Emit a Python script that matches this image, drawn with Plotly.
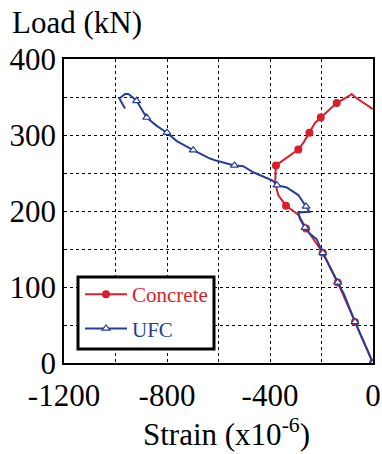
import plotly.graph_objects as go

# ---- data ----
concrete_strain = [0, -70, -137, -195, -260, -290, -309, -338, -368, -380, -377,
                   -290, -270, -247, -225, -203, -141, -90, -83, -70, 0]
concrete_load = [0, 54, 106, 145, 177, 195, 200, 207, 221, 237, 260,
                 281, 290, 303, 316, 323, 342, 352, 354, 350, 334]
concrete_marker_idx = [0, 1, 2, 3, 4, 7, 10, 11, 13, 15, 16]

ufc_strain = [0, -70, -113, -137, -195, -219, -245, -264, -283, -290, -247, -260,
              -290, -335, -373, -390, -465, -504, -538, -607, -633, -698, -762,
              -800, -840, -879, -889, -905, -918, -935, -950, -963, -985, -963]
ufc_load = [0, 54, 91, 106, 145, 163, 170, 178, 189, 198, 199, 206,
            221, 231, 234, 240, 251, 259, 260, 266, 269, 280, 292,
            303, 312, 323, 329, 337, 345, 350, 354, 354, 348, 335]
ufc_marker_idx = [0, 1, 3, 4, 7, 11, 14, 18, 21, 23, 25, 28]

x_ticks = [-1200, -800, -400, 0]
y_ticks = [0, 100, 200, 300, 400]

RED = "#da1f2c"
BLUE = "#263e98"
FONT = "Liberation Serif"

fig = go.Figure()

fig.add_trace(go.Scatter(x=concrete_strain, y=concrete_load, mode="lines",
                         line=dict(color=RED, width=2), showlegend=False, hoverinfo="skip"))
fig.add_trace(go.Scatter(x=[concrete_strain[i] for i in concrete_marker_idx],
                         y=[concrete_load[i] for i in concrete_marker_idx],
                         mode="markers", marker=dict(color=RED, size=8, symbol="circle"),
                         showlegend=False))
fig.add_trace(go.Scatter(x=ufc_strain, y=ufc_load, mode="lines",
                         line=dict(color=BLUE, width=2), showlegend=False, hoverinfo="skip"))
fig.add_trace(go.Scatter(x=[ufc_strain[i] for i in ufc_marker_idx],
                         y=[ufc_load[i] for i in ufc_marker_idx],
                         mode="markers",
                         marker=dict(color="white", size=7, symbol="triangle-up",
                                     line=dict(color=BLUE, width=1.2)),
                         showlegend=False))

fig.add_trace(go.Scatter(x=[None], y=[None], mode="lines+markers",
                         name=f'<span style="color:{RED}">Concrete</span>',
                         line=dict(color=RED, width=2),
                         marker=dict(color=RED, size=8, symbol="circle"),
                         legendgroup="a"))
fig.add_trace(go.Scatter(x=[None], y=[None], mode="lines+markers",
                         name=f'<span style="color:{BLUE}">UFC</span>',
                         line=dict(color=BLUE, width=2),
                         marker=dict(color="white", size=7, symbol="triangle-up",
                                     line=dict(color=BLUE, width=1.2)),
                         legendgroup="b"))

axis_common = dict(
    showline=True, mirror=True, linecolor="black", linewidth=1.5,
    showgrid=True, gridcolor="black", gridwidth=1, griddash="dot",
    zeroline=False, ticks="", automargin=False,
    tickfont=dict(family=FONT, size=31, color="black"),
)

fig.update_xaxes(range=[-1200, 0], tickvals=x_ticks, ticktext=[str(v) for v in x_ticks],
                 ticklabelstandoff=4,
                 minor=dict(dtick=200, tick0=0, showgrid=True, gridcolor="black",
                            gridwidth=1, griddash="dot"),
                 **axis_common)
fig.update_yaxes(range=[0, 400], tickvals=y_ticks, ticktext=[str(v) for v in y_ticks],
                 minor=dict(dtick=50, tick0=0, showgrid=True, gridcolor="black",
                            gridwidth=1, griddash="dot"),
                 **axis_common)

pw, ph = 382 - 64 - 9, 454 - 59 - 91

def px(xp):
    return (xp - 64) / pw

def py(yp):
    return (363 - yp) / ph

fig.update_layout(
    width=382, height=454,
    margin=dict(l=64, r=9, t=59, b=91, autoexpand=False),
    paper_bgcolor="white", plot_bgcolor="white",
    font=dict(family=FONT, color="black"),
    legend=dict(x=px(80), y=py(274), xanchor="left", yanchor="top",
                borderwidth=0, bgcolor="rgba(0,0,0,0)",
                font=dict(family=FONT, size=21), traceorder="grouped",
                tracegroupgap=4, itemwidth=42),
    shapes=[
        dict(type="rect", xref="paper", yref="paper",
             x0=px(78), x1=px(214), y0=py(349), y1=py(277),
             fillcolor="white", line=dict(color="black", width=3), layer="above"),
    ],
    annotations=[
        dict(text="Load (kN)", x=px(10), y=py(22),
             xref="paper", yref="paper", xanchor="left", yanchor="middle",
             showarrow=False, font=dict(family=FONT, size=31, color="black")),
        dict(text="Strain (x10<sup>-6</sup>)", x=px(226), y=py(433),
             xref="paper", yref="paper", xanchor="center", yanchor="middle",
             showarrow=False, font=dict(family=FONT, size=31, color="black")),
    ],
)

fig.write_html("out.html", config={"displayModeBar": False},
               post_script="document.body.style.margin='0';document.body.style.overflow='hidden';")
